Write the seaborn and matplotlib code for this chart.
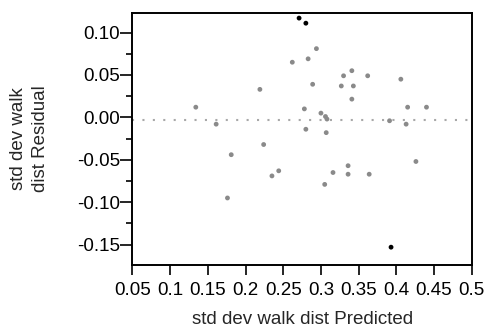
import numpy as np
import pandas as pd
import matplotlib
matplotlib.use("Agg")
import matplotlib.pyplot as plt
from matplotlib.ticker import MultipleLocator, FixedLocator
import seaborn as sns

# residual plot values
predicted = [0.271, 0.280, 0.294, 0.283, 0.262, 0.289, 0.219, 0.134, 0.278,
             0.161, 0.280, 0.341, 0.330, 0.362, 0.406, 0.327, 0.343, 0.341,
             0.415, 0.440, 0.300, 0.306, 0.308, 0.391, 0.413, 0.307, 0.224,
             0.181, 0.244, 0.235, 0.176, 0.426, 0.336, 0.316, 0.336, 0.364,
             0.305, 0.393]
residual = [0.117, 0.111, 0.081, 0.069, 0.065, 0.039, 0.033, 0.012, 0.010,
            -0.008, -0.014, 0.055, 0.049, 0.049, 0.045, 0.037, 0.037, 0.0215,
            0.012, 0.012, 0.005, 0.001, -0.002, -0.004, -0.008, -0.018, -0.032,
            -0.044, -0.063, -0.069, -0.095, -0.052, -0.057, -0.065, -0.067, -0.067,
            -0.079, -0.153]
flagged = [True, True] + [False] * 35 + [True]
mean_line = -0.003

x_ticks = [0.05, 0.1, 0.15, 0.2, 0.25, 0.3, 0.35, 0.4, 0.45, 0.5]
x_labels = ["0.05", "0.1", "0.15", "0.2", "0.25", "0.3", "0.35", "0.4", "0.45", "0.5"]

df = pd.DataFrame({"pred": predicted, "resid": residual,
                   "kind": ["out" if f else "in" for f in flagged]})

sns.set_style("white")
plt.rcParams["font.family"] = ["Liberation Sans", "DejaVu Sans"]
fs = 13.5

fig = plt.figure(figsize=(4.86, 3.31), dpi=100)
ax = fig.add_axes([0.2726, 0.1994, 0.6980, 0.7613])

ax.axhline(mean_line, color="#a8a8a8", lw=1.5, ls=(0, (1, 4)), zorder=1)
sns.scatterplot(data=df, x="pred", y="resid", hue="kind",
                palette={"in": "#8a8a8a", "out": "#000000"},
                s=12, linewidth=0, marker="o", legend=False, ax=ax, zorder=3)

ax.set_xlim(0.05, 0.5)
ax.set_ylim(-0.174, 0.123)
ax.xaxis.set_major_locator(FixedLocator(x_ticks))
ax.set_xticklabels(x_labels)
ax.yaxis.set_major_locator(MultipleLocator(0.05))
ax.yaxis.set_minor_locator(MultipleLocator(0.025))
ax.yaxis.set_major_formatter(matplotlib.ticker.FormatStrFormatter("%.2f"))

ax.tick_params(axis="y", which="major", direction="out", length=8.5, width=1.2,
               color="black", labelsize=fs, pad=0.5, labelcolor="black", left=True)
ax.tick_params(axis="x", which="major", direction="out", length=7.5, width=1.2,
               color="black", labelsize=fs, pad=4.5, labelcolor="black", bottom=True)
ax.tick_params(axis="y", which="minor", direction="out", length=4.5, width=1.2,
               color="black", left=True)

for side in ["left", "bottom", "top", "right"]:
    ax.spines[side].set_visible(True)
    ax.spines[side].set_color("black")
    ax.spines[side].set_linewidth(1.4)

ax.set_xlabel("std dev walk dist Predicted", fontsize=fs, labelpad=9)
ax.set_ylabel("std dev walk\ndist Residual", fontsize=fs, labelpad=20,
              linespacing=1.4)

fig.savefig("out.png", dpi=100)
